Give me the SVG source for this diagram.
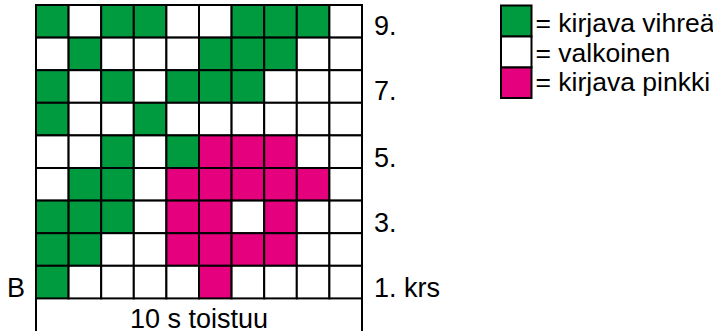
<svg xmlns="http://www.w3.org/2000/svg" width="713" height="335" viewBox="0 0 713 335">
<style>
.g{fill:#009B3E}
.w{fill:#FFFFFF}
.p{fill:#E5007D}
.c{stroke:#000;stroke-width:2}
.t{font-family:"Liberation Sans",Arial,sans-serif;font-size:27px;fill:#000}
.l{font-size:26.5px}
</style>
<rect width="713" height="335" fill="#fff"/>
<g id="chart">
<!-- row 9 -->
<g transform="translate(36,5)">
<rect class="c g" x="0" y="0" width="32.6" height="32.6"/><rect class="c w" x="32.6" y="0" width="32.6" height="32.6"/><rect class="c g" x="65.2" y="0" width="32.6" height="32.6"/><rect class="c g" x="97.8" y="0" width="32.6" height="32.6"/><rect class="c w" x="130.4" y="0" width="32.6" height="32.6"/><rect class="c w" x="163" y="0" width="32.6" height="32.6"/><rect class="c g" x="195.6" y="0" width="32.6" height="32.6"/><rect class="c g" x="228.2" y="0" width="32.6" height="32.6"/><rect class="c g" x="260.8" y="0" width="32.6" height="32.6"/><rect class="c w" x="293.4" y="0" width="32.6" height="32.6"/>
</g>
<!-- row 8 -->
<g transform="translate(36,37.6)">
<rect class="c w" x="0" y="0" width="32.6" height="32.6"/><rect class="c g" x="32.6" y="0" width="32.6" height="32.6"/><rect class="c w" x="65.2" y="0" width="32.6" height="32.6"/><rect class="c w" x="97.8" y="0" width="32.6" height="32.6"/><rect class="c w" x="130.4" y="0" width="32.6" height="32.6"/><rect class="c g" x="163" y="0" width="32.6" height="32.6"/><rect class="c g" x="195.6" y="0" width="32.6" height="32.6"/><rect class="c g" x="228.2" y="0" width="32.6" height="32.6"/><rect class="c w" x="260.8" y="0" width="32.6" height="32.6"/><rect class="c w" x="293.4" y="0" width="32.6" height="32.6"/>
</g>
<!-- row 7 -->
<g transform="translate(36,70.2)">
<rect class="c g" x="0" y="0" width="32.6" height="32.6"/><rect class="c w" x="32.6" y="0" width="32.6" height="32.6"/><rect class="c g" x="65.2" y="0" width="32.6" height="32.6"/><rect class="c w" x="97.8" y="0" width="32.6" height="32.6"/><rect class="c g" x="130.4" y="0" width="32.6" height="32.6"/><rect class="c g" x="163" y="0" width="32.6" height="32.6"/><rect class="c g" x="195.6" y="0" width="32.6" height="32.6"/><rect class="c w" x="228.2" y="0" width="32.6" height="32.6"/><rect class="c w" x="260.8" y="0" width="32.6" height="32.6"/><rect class="c w" x="293.4" y="0" width="32.6" height="32.6"/>
</g>
<!-- row 6 -->
<g transform="translate(36,102.8)">
<rect class="c g" x="0" y="0" width="32.6" height="32.6"/><rect class="c w" x="32.6" y="0" width="32.6" height="32.6"/><rect class="c w" x="65.2" y="0" width="32.6" height="32.6"/><rect class="c g" x="97.8" y="0" width="32.6" height="32.6"/><rect class="c w" x="130.4" y="0" width="32.6" height="32.6"/><rect class="c w" x="163" y="0" width="32.6" height="32.6"/><rect class="c w" x="195.6" y="0" width="32.6" height="32.6"/><rect class="c w" x="228.2" y="0" width="32.6" height="32.6"/><rect class="c w" x="260.8" y="0" width="32.6" height="32.6"/><rect class="c w" x="293.4" y="0" width="32.6" height="32.6"/>
</g>
<!-- row 5 -->
<g transform="translate(36,135.4)">
<rect class="c w" x="0" y="0" width="32.6" height="32.6"/><rect class="c w" x="32.6" y="0" width="32.6" height="32.6"/><rect class="c g" x="65.2" y="0" width="32.6" height="32.6"/><rect class="c w" x="97.8" y="0" width="32.6" height="32.6"/><rect class="c g" x="130.4" y="0" width="32.6" height="32.6"/><rect class="c p" x="163" y="0" width="32.6" height="32.6"/><rect class="c p" x="195.6" y="0" width="32.6" height="32.6"/><rect class="c p" x="228.2" y="0" width="32.6" height="32.6"/><rect class="c w" x="260.8" y="0" width="32.6" height="32.6"/><rect class="c w" x="293.4" y="0" width="32.6" height="32.6"/>
</g>
<!-- row 4 -->
<g transform="translate(36,168)">
<rect class="c w" x="0" y="0" width="32.6" height="32.6"/><rect class="c g" x="32.6" y="0" width="32.6" height="32.6"/><rect class="c g" x="65.2" y="0" width="32.6" height="32.6"/><rect class="c w" x="97.8" y="0" width="32.6" height="32.6"/><rect class="c p" x="130.4" y="0" width="32.6" height="32.6"/><rect class="c p" x="163" y="0" width="32.6" height="32.6"/><rect class="c p" x="195.6" y="0" width="32.6" height="32.6"/><rect class="c p" x="228.2" y="0" width="32.6" height="32.6"/><rect class="c p" x="260.8" y="0" width="32.6" height="32.6"/><rect class="c w" x="293.4" y="0" width="32.6" height="32.6"/>
</g>
<!-- row 3 -->
<g transform="translate(36,200.6)">
<rect class="c g" x="0" y="0" width="32.6" height="32.6"/><rect class="c g" x="32.6" y="0" width="32.6" height="32.6"/><rect class="c g" x="65.2" y="0" width="32.6" height="32.6"/><rect class="c w" x="97.8" y="0" width="32.6" height="32.6"/><rect class="c p" x="130.4" y="0" width="32.6" height="32.6"/><rect class="c p" x="163" y="0" width="32.6" height="32.6"/><rect class="c w" x="195.6" y="0" width="32.6" height="32.6"/><rect class="c p" x="228.2" y="0" width="32.6" height="32.6"/><rect class="c w" x="260.8" y="0" width="32.6" height="32.6"/><rect class="c w" x="293.4" y="0" width="32.6" height="32.6"/>
</g>
<!-- row 2 -->
<g transform="translate(36,233.2)">
<rect class="c g" x="0" y="0" width="32.6" height="32.6"/><rect class="c g" x="32.6" y="0" width="32.6" height="32.6"/><rect class="c w" x="65.2" y="0" width="32.6" height="32.6"/><rect class="c w" x="97.8" y="0" width="32.6" height="32.6"/><rect class="c p" x="130.4" y="0" width="32.6" height="32.6"/><rect class="c p" x="163" y="0" width="32.6" height="32.6"/><rect class="c p" x="195.6" y="0" width="32.6" height="32.6"/><rect class="c p" x="228.2" y="0" width="32.6" height="32.6"/><rect class="c w" x="260.8" y="0" width="32.6" height="32.6"/><rect class="c w" x="293.4" y="0" width="32.6" height="32.6"/>
</g>
<!-- row 1 -->
<g transform="translate(36,265.8)">
<rect class="c g" x="0" y="0" width="32.6" height="32.6"/><rect class="c w" x="32.6" y="0" width="32.6" height="32.6"/><rect class="c w" x="65.2" y="0" width="32.6" height="32.6"/><rect class="c w" x="97.8" y="0" width="32.6" height="32.6"/><rect class="c w" x="130.4" y="0" width="32.6" height="32.6"/><rect class="c p" x="163" y="0" width="32.6" height="32.6"/><rect class="c w" x="195.6" y="0" width="32.6" height="32.6"/><rect class="c w" x="228.2" y="0" width="32.6" height="32.6"/><rect class="c w" x="260.8" y="0" width="32.6" height="32.6"/><rect class="c w" x="293.4" y="0" width="32.6" height="32.6"/>
</g>
</g>
<g id="repeat">
<line x1="36" y1="298" x2="36" y2="331" class="c"/>
<line x1="362" y1="298" x2="362" y2="331" class="c"/>
<text class="t" x="199" y="328" text-anchor="middle">10 s toistuu</text>
</g>
<g id="row-labels">
<text class="t" x="374" y="35">9.</text>
<text class="t" x="374" y="100">7.</text>
<text class="t" x="374" y="167">5.</text>
<text class="t" x="374" y="232">3.</text>
<text class="t" x="374" y="297">1. krs</text>
<text class="t" x="7" y="297">B</text>
</g>
<g id="legend">
<g id="legend-green"><rect class="c g" x="501" y="5.5" width="30.5" height="31"/><text class="t l" x="535.5" y="31.5">= kirjava vihreä</text></g>
<g id="legend-white"><rect class="c w" x="501" y="36.5" width="30.5" height="31"/><text class="t l" x="535.5" y="61.5">= valkoinen</text></g>
<g id="legend-pink"><rect class="c p" x="501" y="67.5" width="30.5" height="30.5"/><text class="t l" x="535.5" y="91">= kirjava pinkki</text></g>
</g>
</svg>
